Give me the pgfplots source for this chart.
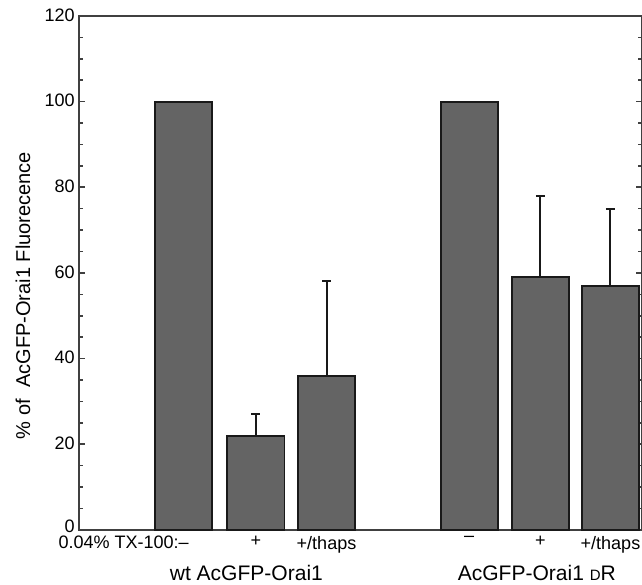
\documentclass[border=0pt]{standalone}
\usepackage{pgfplots}
\pgfplotsset{compat=1.18}
\usepackage{fontspec}
\setmainfont{Liberation Sans}
\definecolor{barfill}{RGB}{100,100,100}

\begin{document}
\begin{tikzpicture}
	\begin{axis}[
			scale only axis,
			width=562pt, height=513pt,
			xmin=79, xmax=641,
			ymin=0, ymax=120,
			ytick={0,20,...,120},
			yticklabels={\raisebox{4.5pt}{0},20,40,60,80,100,120},
			minor y tick num=3,
			tick align=inside,
			major tick length=6pt,
			minor tick length=4pt,
			xtick={183.5,255.5,326,468.5,539.5,609.5},
			xticklabels={\llap{0.04\% TX-100:}–, +, +/thaps, –, +, +/thaps},
			x tick style={draw=none},
			xticklabel style={font=\fontsize{18}{20}\selectfont, yshift=-3pt},
			yticklabel style={font=\fontsize{18}{20}\selectfont, xshift=-1pt, yshift=1pt},
			axis line style={line width=2pt, black!75},
			every tick/.style={line width=1.6pt, black!75},
			/pgf/number format/assume math mode=true,
			ylabel={\%\ of\ \ AcGFP-Orai1 Fluorecence},
			ylabel style={font=\fontsize{20}{22}\selectfont, at={(rel axis cs:0,0.456)},
					anchor=center, yshift=56pt},
			clip=false,
		]
		\addplot[
			ybar, bar width=57, fill=barfill, draw=black!90, line width=1.8pt,
			error bars/y dir=plus, error bars/y explicit,
			error bars/error bar style={line width=2pt, black!90},
			error bars/error mark options={rotate=90, mark size=4.5pt, line width=2pt, black!90},
		] coordinates {
				(183.5,100) +- (0,0)
				(255.5,22) +- (0,5)
				(326,36) +- (0,22)
				(468.5,100) +- (0,0)
				(539.5,59) +- (0,19)
				(609.5,57) +- (0,18)
			};
		\node[font=\fontsize{21}{23}\selectfont] at (axis cs:246,0) [yshift=-43pt] {wt AcGFP-Orai1};
		\node[font=\fontsize{21}{23}\selectfont] at (axis cs:536,0) [yshift=-43pt] {AcGFP-Orai1 {\fontsize{15}{17}\selectfont D}R};
		\coordinate (sw) at (rel axis cs:0,0);
		\coordinate (ne) at (rel axis cs:1,1);
	\end{axis}
	\pgfresetboundingbox
	\useasboundingbox ([shift={(-79pt,-55pt)}]sw) rectangle ([shift={(0pt,16pt)}]ne);
\end{tikzpicture}
\end{document}
